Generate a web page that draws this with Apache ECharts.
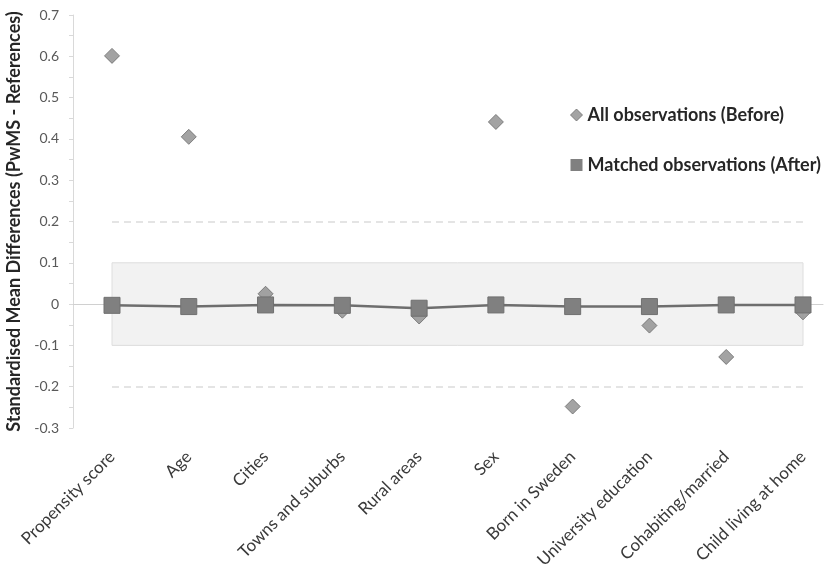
<!DOCTYPE html>
<html>
<head>
<meta charset="utf-8">
<script src="https://cdn.jsdelivr.net/npm/echarts@6/dist/echarts.min.js"></script>
<style>
  html, body { margin: 0; padding: 0; background: #fff; }
  #chart { width: 825px; height: 568px; }
</style>
</head>
<body>
<div id="chart"></div>
<script>
// Covariates compared between PwMS and references
const categories = [
  'Propensity score', 'Age', 'Cities', 'Towns and suburbs', 'Rural areas',
  'Sex', 'Born in Sweden', 'University education', 'Cohabiting/married', 'Child living at home'
];
// Standardised mean differences before matching (all observations)
const beforeValues = [0.601, 0.405, 0.025, -0.016, -0.03, 0.441, -0.248, -0.052, -0.128, -0.02];
// Standardised mean differences after matching
const afterValues = [-0.003, -0.006, -0.002, -0.003, -0.01, -0.002, -0.006, -0.006, -0.002, -0.002];

const seriesNames = ['All observations (Before)', 'Matched observations (After)'];
const yTitle = 'Standardised Mean Differences (PwMS - References)';

const FONT = 'Lato, "Noto Sans", sans-serif';
const TEXT = '#595959';

const chart = echarts.init(document.getElementById('chart'), null, { renderer: 'canvas' });

chart.setOption({
  animation: false,
  backgroundColor: '#ffffff',
  grid: [
    { left: 112, right: 22, top: 15, bottom: 140, outerBoundsMode: 'none' },
    { left: 73, right: 2, top: 15, bottom: 140, outerBoundsMode: 'none' }
  ],
  legend: {
    orient: 'vertical',
    left: 565,
    top: 101,
    itemGap: 32,
    itemWidth: 12,
    itemHeight: 12,
    textStyle: { fontFamily: FONT, fontSize: 18, fontWeight: 'bold', color: '#262626' },
    data: [
      { name: seriesNames[0], icon: 'diamond', itemStyle: { color: '#8c8c8c', borderColor: '#6e6e6e', borderWidth: 1 } },
      { name: seriesNames[1], icon: 'rect', itemStyle: { color: '#808080', borderColor: '#808080', borderWidth: 0 } }
    ]
  },
  xAxis: [
    {
      type: 'category',
      gridIndex: 0,
      data: categories,
      boundaryGap: false,
      axisLine: { show: false },
      axisTick: { show: false },
      axisLabel: {
        rotate: 45,
        margin: 26,
        interval: 0,
        fontFamily: FONT,
        fontSize: 17,
        color: '#3a3a3a'
      },
      splitLine: { show: false }
    },
    {
      type: 'value',
      gridIndex: 1,
      min: 0,
      max: 1,
      axisLine: { show: true, onZero: true, lineStyle: { color: '#d0d0d0', width: 1 } },
      axisTick: { show: false },
      axisLabel: { show: false },
      splitLine: { show: false }
    }
  ],
  yAxis: [
    {
      type: 'value',
      gridIndex: 0,
      min: -0.3,
      max: 0.7,
      interval: 0.1,
      show: false
    },
    {
      type: 'value',
      gridIndex: 1,
      min: -0.3,
      max: 0.7,
      interval: 0.1,
      name: yTitle,
      nameLocation: 'middle',
      nameGap: 47,
      nameTextStyle: { fontFamily: FONT, fontSize: 18, fontWeight: 'bold', color: '#262626' },
      axisLine: { show: true, lineStyle: { color: '#d9d9d9' } },
      axisTick: { show: true, length: 4, lineStyle: { color: '#d9d9d9' } },
      minorTick: { show: true, splitNumber: 2, length: 4, lineStyle: { color: '#d9d9d9' } },
      axisLabel: {
        margin: 14,
        fontFamily: FONT,
        fontSize: 14,
        color: TEXT,
        formatter: v => String(Math.round(v * 10) / 10)
      },
      splitLine: { show: false }
    }
  ],
  series: [
    {
      name: seriesNames[0],
      type: 'scatter',
      xAxisIndex: 0,
      yAxisIndex: 0,
      data: beforeValues,
      symbol: 'diamond',
      symbolSize: [15, 15],
      z: 3,
      itemStyle: { color: '#8c8c8c', borderColor: '#6a6a6a', borderWidth: 1 },
      markArea: {
        silent: true,
        itemStyle: { color: '#f2f2f2', borderColor: '#dedede', borderWidth: 1 },
        data: [[{ xAxis: 0, yAxis: 0.1 }, { xAxis: categories.length - 1, yAxis: -0.1 }]]
      },
      markLine: {
        silent: true,
        symbol: 'none',
        label: { show: false },
        lineStyle: { color: '#dcdcdc', type: [7, 5], width: 1.5 },
        data: [{ yAxis: 0.2 }, { yAxis: -0.2 }]
      }
    },
    {
      name: seriesNames[1],
      type: 'line',
      xAxisIndex: 0,
      yAxisIndex: 0,
      data: afterValues,
      symbol: 'rect',
      symbolSize: 16,
      showAllSymbol: true,
      z: 4,
      lineStyle: { color: '#6e6e6e', width: 2.5 },
      itemStyle: { color: '#808080', borderColor: '#707070', borderWidth: 1 }
    }
  ]
});
</script>
</body>
</html>
